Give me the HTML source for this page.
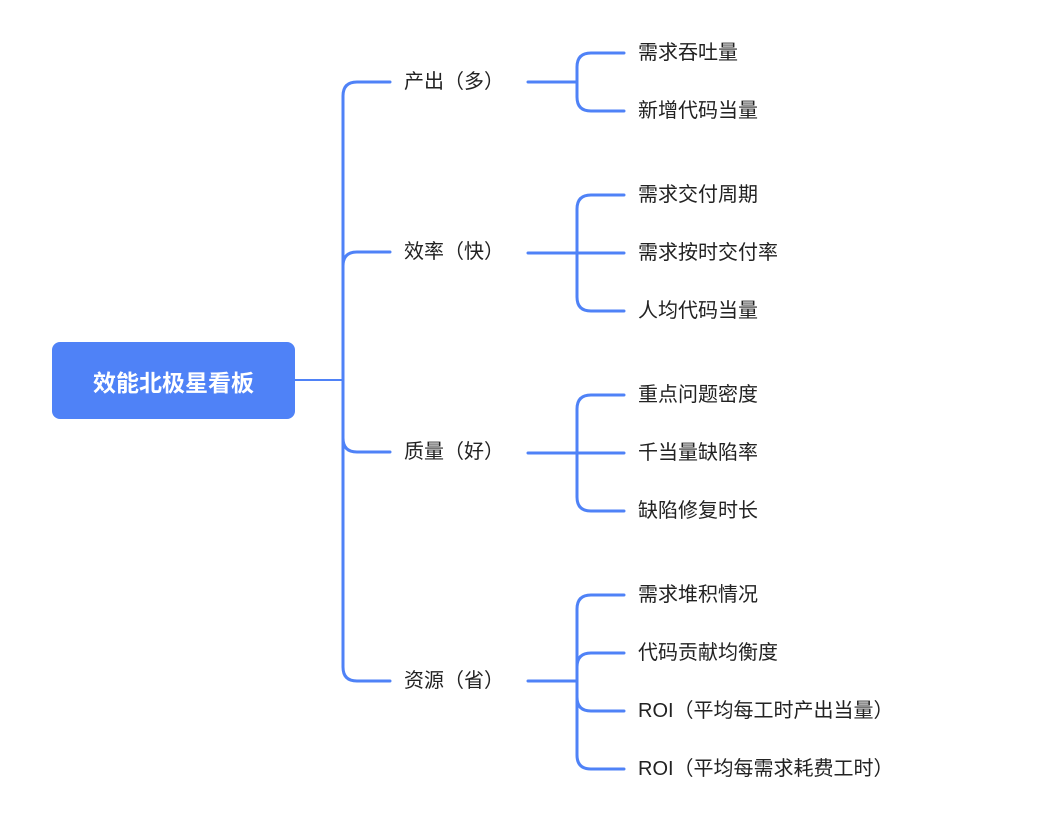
<!DOCTYPE html>
<html><head><meta charset="utf-8"><style>
html,body{margin:0;padding:0;background:#fff;}
body{width:1056px;height:822px;position:relative;overflow:hidden;font-family:"Liberation Sans","Noto Sans CJK SC",sans-serif;}
.root{position:absolute;left:52px;top:342px;width:243px;height:77px;background:#4f82f7;border-radius:8px;color:#fff;font-weight:bold;font-size:23px;display:flex;align-items:center;justify-content:center;}
.t{position:absolute;font-size:20px;color:#222;line-height:24px;white-space:nowrap;}
svg{position:absolute;left:0;top:0;}
</style></head><body>
<svg width="1056" height="822" fill="none" stroke="#4f82f7" stroke-width="3" stroke-linecap="round">
<line x1="295" y1="380" x2="343" y2="380" stroke-width="2"/>
<path d="M343 380 V96 Q343 82 357 82 H390"/>
<path d="M343 380 V266 Q343 252 357 252 H390"/>
<path d="M343 380 V438 Q343 452 357 452 H390"/>
<path d="M343 380 V667 Q343 681 357 681 H390"/>
<line x1="528" y1="82" x2="577" y2="82"/>
<line x1="528" y1="253" x2="577" y2="253"/>
<line x1="528" y1="453" x2="577" y2="453"/>
<line x1="528" y1="681" x2="577" y2="681"/>
<path d="M577 82 V67 Q577 53 591 53 H624"/>
<path d="M577 82 V97 Q577 111 591 111 H624"/>
<path d="M577 253 V209 Q577 195 591 195 H624"/>
<path d="M577 253 H624"/>
<path d="M577 253 V297 Q577 311 591 311 H624"/>
<path d="M577 453 V409 Q577 395 591 395 H624"/>
<path d="M577 453 H624"/>
<path d="M577 453 V497 Q577 511 591 511 H624"/>
<path d="M577 681 V609 Q577 595 591 595 H624"/>
<path d="M577 681 V667 Q577 653 591 653 H624"/>
<path d="M577 681 V697 Q577 711 591 711 H624"/>
<path d="M577 681 V755 Q577 769 591 769 H624"/>
</svg>
<div class="root">效能北极星看板</div>
<div class="t" style="left:404px;top:70px">产出（多）</div>
<div class="t" style="left:404px;top:240px">效率（快）</div>
<div class="t" style="left:404px;top:440px">质量（好）</div>
<div class="t" style="left:404px;top:669px">资源（省）</div>
<div class="t" style="left:638px;top:41px">需求吞吐量</div>
<div class="t" style="left:638px;top:99px">新增代码当量</div>
<div class="t" style="left:638px;top:183px">需求交付周期</div>
<div class="t" style="left:638px;top:241px">需求按时交付率</div>
<div class="t" style="left:638px;top:299px">人均代码当量</div>
<div class="t" style="left:638px;top:383px">重点问题密度</div>
<div class="t" style="left:638px;top:441px">千当量缺陷率</div>
<div class="t" style="left:638px;top:499px">缺陷修复时长</div>
<div class="t" style="left:638px;top:583px">需求堆积情况</div>
<div class="t" style="left:638px;top:641px">代码贡献均衡度</div>
<div class="t" style="left:638px;top:699px">ROI（平均每工时产出当量）</div>
<div class="t" style="left:638px;top:757px">ROI（平均每需求耗费工时）</div>
</body></html>
